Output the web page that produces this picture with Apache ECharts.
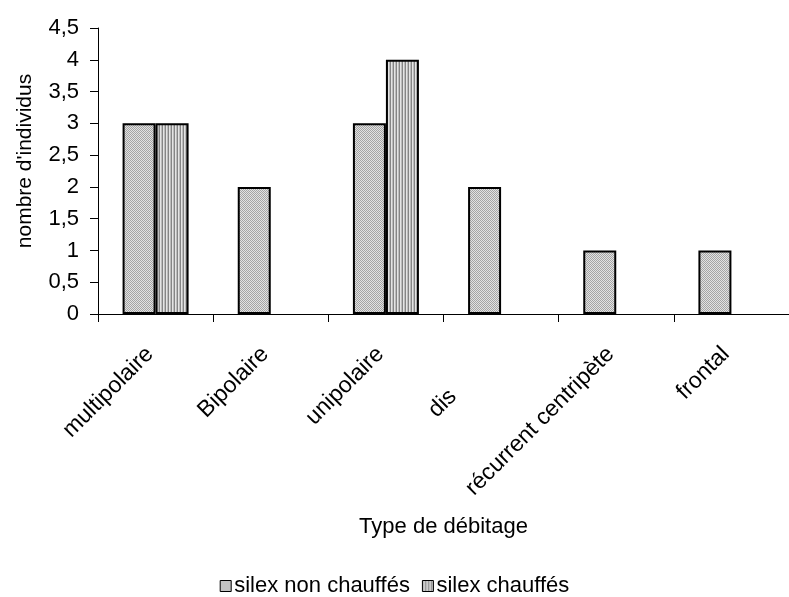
<!DOCTYPE html>
<html>
<head>
<meta charset="utf-8">
<script src="https://cdn.jsdelivr.net/npm/echarts@6/dist/echarts.min.js"></script>
<style>
html,body{margin:0;padding:0;background:#fff;}
#chart{width:789px;height:597px;}
</style>
</head>
<body>
<div id="chart"></div>
<script>
var categories = ['multipolaire', 'Bipolaire', 'unipolaire', 'dis', 'récurrent centripète', 'frontal'];
var nonChauffes = [3, 2, 3, 2, 1, 1];
var chauffes = [3, 0, 4, 0, 0, 0];
var seriesNames = ['silex non chauffés', 'silex chauffés'];
var yMin = 0, yMax = 4.5, yStep = 0.5;

function makePattern(kind) {
  var c = document.createElement('canvas');
  var ctx = c.getContext('2d');
  if (kind === 'dots') {
    c.width = 2; c.height = 2;
    ctx.fillStyle = '#e2e2e2'; ctx.fillRect(0, 0, 2, 2);
    ctx.fillStyle = '#a4a4a4'; ctx.fillRect(0, 0, 1, 1); ctx.fillRect(1, 1, 1, 1);
  } else {
    c.width = 3; c.height = 1;
    ctx.fillStyle = '#858585'; ctx.fillRect(0, 0, 1, 1);
    ctx.fillStyle = '#e4e4e4'; ctx.fillRect(1, 0, 1, 1);
    ctx.fillStyle = '#bcbcbc'; ctx.fillRect(2, 0, 1, 1);
  }
  return { image: c, repeat: 'repeat' };
}
function hideZero(arr) { return arr.map(function (v) { return v === 0 ? null : v; }); }

var FONT = 'Liberation Sans';
var chart = echarts.init(document.getElementById('chart'), null, { renderer: 'canvas' });
chart.setOption({
  animation: false,
  backgroundColor: '#ffffff',
  textStyle: { fontFamily: FONT, color: '#000' },
  grid: { left: 98, top: 28, width: 702, height: 286, containLabel: false },
  legend: {
    data: seriesNames,
    left: 'center', top: 575, padding: 0,
    itemWidth: 11, itemHeight: 11, itemGap: 12,
    icon: 'rect',
    textStyle: { fontFamily: FONT, fontSize: 22, color: '#000', padding: [0, 0, 0, -2] },
    itemStyle: { borderColor: '#000', borderWidth: 1 }
  },
  xAxis: {
    type: 'category',
    data: categories,
    name: 'Type de débitage',
    nameLocation: 'middle',
    nameGap: 202,
    nameTextStyle: { fontFamily: FONT, fontSize: 22, color: '#000' },
    axisLine: { lineStyle: { color: '#000', width: 1 } },
    axisTick: { show: true, length: 8, interval: 0, lineStyle: { color: '#000' } },
    axisLabel: {
      rotate: 45, interval: 0, margin: 31, padding: [0, 8, 0, 0],
      fontFamily: FONT, fontSize: 23, color: '#000',
      formatter: function (v) { return v === 'dis' ? '{n|' + v + '}{gap|}' : '{n|' + v + '}'; },
      rich: {
        n: { fontFamily: FONT, fontSize: 23, color: '#000' },
        gap: { width: 60 }
      }
    },
    splitLine: { show: false }
  },
  yAxis: {
    type: 'value',
    min: yMin, max: yMax, interval: yStep,
    name: "nombre d'individus",
    nameLocation: 'middle',
    nameGap: 62,
    nameRotate: 90,
    nameTextStyle: { fontFamily: FONT, fontSize: 21, color: '#000', padding: [0, 0, 0, 20] },
    axisLine: { show: true, lineStyle: { color: '#000', width: 1 } },
    axisTick: { show: true, length: 8, lineStyle: { color: '#000' } },
    axisLabel: {
      margin: 19, fontFamily: FONT, fontSize: 22, color: '#000',
      formatter: function (v) { return String(v).replace('.', ','); }
    },
    splitLine: { show: false }
  },
  series: [
    {
      name: seriesNames[0], type: 'bar', data: hideZero(nonChauffes),
      barGap: '0%', barWidth: 33,
      itemStyle: { color: makePattern('dots'), borderColor: '#000', borderWidth: 2 }
    },
    {
      name: seriesNames[1], type: 'bar', data: hideZero(chauffes),
      barWidth: 33,
      itemStyle: { color: makePattern('stripes'), borderColor: '#000', borderWidth: 2 }
    }
  ]
});
</script>
</body>
</html>
